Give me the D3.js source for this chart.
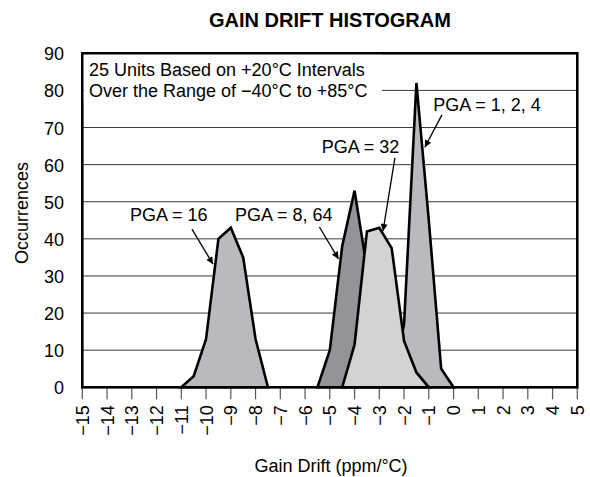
<!DOCTYPE html>
<html>
<head>
<meta charset="utf-8">
<script src="https://cdn.jsdelivr.net/npm/d3@7"></script>
<style>
  body { margin: 0; background: #fff; }
  svg { font-family: "Liberation Sans", Arial, Helvetica, sans-serif; }
</style>
</head>
<body>
<svg width="590" height="477"></svg>
<script>
// histogram outlines, 0.5 ppm/°C bins
var drift16 = [-11, -10.5, -10, -9.5, -9, -8.5, -8, -7.5];
var count16 = [0, 3, 13, 40, 43, 35, 13, 0];

var drift864 = [-5.5, -5, -4.5, -4, -3.5, -3, -2.5];
var count864 = [0, 10, 38, 53, 32, 5, 0];

var drift32 = [-4.5, -4, -3.5, -3, -2.5, -2, -1.5, -1];
var count32 = [0, 11.5, 42, 43, 37.5, 12.5, 4, 0];

var drift124 = [-2.5, -2, -1.5, -1, -0.5, 0];
var count124 = [0, 17, 82, 45, 5, 0];

var xTicks = d3.range(-15, 6, 1);
var yTicks = [0, 10, 20, 30, 40, 50, 60, 70, 80, 90];

var svg = d3.select("svg");

var x = d3.scaleLinear().domain([-15, 5]).range([82.3, 577.3]);
var y = d3.scaleLinear().domain([0, 90]).range([387.3, 53.3]);

// title
svg.append("text")
  .attr("x", 330).attr("y", 27)
  .attr("text-anchor", "middle")
  .style("font-weight", "bold")
  .style("font-size", "20px")
  .text("GAIN DRIFT HISTOGRAM");

// gridlines
svg.append("g").selectAll("line")
  .data(yTicks.filter(function(d) { return d > 0 && d < 90; }))
  .enter().append("line")
  .attr("x1", x(-15)).attr("x2", x(5))
  .attr("y1", function(d) { return y(d); })
  .attr("y2", function(d) { return y(d); })
  .attr("stroke", "#3a3a3a")
  .attr("stroke-width", 1);

// x ticks
svg.append("g").selectAll("line")
  .data(xTicks)
  .enter().append("line")
  .attr("x1", function(d) { return x(d); })
  .attr("x2", function(d) { return x(d); })
  .attr("y1", y(0)).attr("y2", y(0) + 12)
  .attr("stroke", "#555")
  .attr("stroke-width", 1.2);

var area = d3.area()
  .x(function(d) { return x(d[0]); })
  .y0(y(0))
  .y1(function(d) { return y(d[1]); });

function drawSeries(xs, vs, fill) {
  var pts = xs.map(function(v, i) { return [v, vs[i]]; });
  svg.append("path")
    .datum(pts)
    .attr("d", area)
    .attr("fill", fill)
    .attr("stroke", "#000")
    .attr("stroke-width", 2.6)
    .attr("stroke-linejoin", "miter");
}

drawSeries(drift16, count16, "#b9babd");
drawSeries(drift124, count124, "#b9babd");
drawSeries(drift864, count864, "#939497");
drawSeries(drift32, count32, "#d2d3d5");

// frame
svg.append("rect")
  .attr("x", x(-15)).attr("y", y(90))
  .attr("width", x(5) - x(-15))
  .attr("height", y(0) - y(90))
  .attr("fill", "none")
  .attr("stroke", "#000")
  .attr("stroke-width", 2.6);

// y tick labels
svg.append("g").selectAll("text")
  .data(yTicks)
  .enter().append("text")
  .attr("x", 64)
  .attr("y", function(d) { return y(d) + 7; })
  .attr("text-anchor", "end")
  .style("font-size", "18px")
  .text(function(d) { return d; });

// x tick labels (rotated)
var fmt = d3.format("d");
svg.append("g").selectAll("text")
  .data(xTicks)
  .enter().append("text")
  .attr("transform", function(d) { return "translate(" + (x(d) + 6.5) + "," + (y(0) + 18) + ") rotate(-90)"; })
  .attr("text-anchor", "end")
  .style("font-size", "18px")
  .text(function(d) { return fmt(d); });

// axis titles
svg.append("text")
  .attr("x", 331).attr("y", 472)
  .attr("text-anchor", "middle")
  .style("font-size", "18px")
  .text("Gain Drift (ppm/°C)");

svg.append("text")
  .attr("transform", "translate(28,213) rotate(-90)")
  .attr("text-anchor", "middle")
  .style("font-size", "18px")
  .text("Occurrences");

// note box
svg.append("rect")
  .attr("x", x(-15) + 1.5).attr("y", y(90) + 1.5)
  .attr("width", 298).attr("height", 46)
  .attr("fill", "#fff");

svg.append("text")
  .attr("x", 89).attr("y", 76)
  .style("font-size", "18px")
  .text("25 Units Based on +20°C Intervals");
svg.append("text")
  .attr("x", 89).attr("y", 97)
  .style("font-size", "18px")
  .text("Over the Range of \u221240°C to +85°C");

// callouts
var labels = ["PGA = 16", "PGA = 8, 64", "PGA = 32", "PGA = 1, 2, 4"];
var labelX = [-13.07, -8.83, -5.33, -0.82];
var labelY = [44.9, 44.9, 63.2, 74.5];
var arrowFrom = [[-10.57, 42.6], [-5.42, 43.2], [-2.37, 61.8], [-0.47, 73.4]];
var arrowTo = [[-9.72, 33.2], [-4.65, 34.6], [-2.85, 42.1], [-1.16, 64.7]];

svg.append("defs").append("marker")
  .attr("id", "head")
  .attr("viewBox", "0 0 10 10")
  .attr("refX", 10).attr("refY", 5)
  .attr("markerWidth", 11).attr("markerHeight", 7)
  .attr("markerUnits", "userSpaceOnUse")
  .attr("orient", "auto")
  .append("path")
  .attr("d", "M0,0L10,5L0,10Z")
  .attr("fill", "#000");

labels.forEach(function(t, i) {
  svg.append("text")
    .attr("x", x(labelX[i])).attr("y", y(labelY[i]))
    .style("font-size", "18px")
    .text(t);
  svg.append("line")
    .attr("x1", x(arrowFrom[i][0])).attr("y1", y(arrowFrom[i][1]))
    .attr("x2", x(arrowTo[i][0])).attr("y2", y(arrowTo[i][1]))
    .attr("stroke", "#000")
    .attr("stroke-width", 1.3)
    .attr("marker-end", "url(#head)");
});
</script>
</body>
</html>
